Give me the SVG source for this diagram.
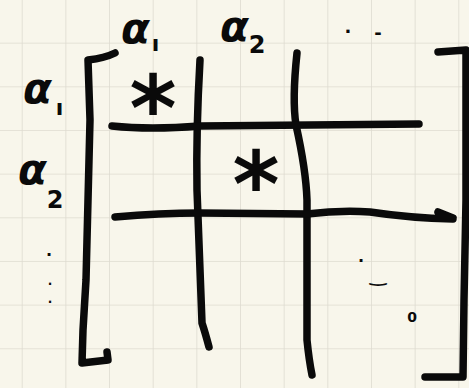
<svg xmlns="http://www.w3.org/2000/svg" width="469" height="388" viewBox="0 0 469 388">
<defs>
<pattern id="grid" x="21.7" y="-1" width="43.66" height="43.66" patternUnits="userSpaceOnUse">
<path d="M0,0 V43.66 M0,0 H43.66" fill="none" stroke="#dedbd0" stroke-width="1.6"/>
</pattern>
<style>
.ink{fill:none;stroke:#0a0a0a;stroke-width:7.5;stroke-linecap:round;stroke-linejoin:round}
.lbl{font-family:"DejaVu Sans",sans-serif;font-style:italic;font-weight:bold;fill:#0a0a0a}
.sub{font-family:"DejaVu Sans",sans-serif;font-weight:bold;fill:#0a0a0a}
.star{font-family:"DejaVu Sans",sans-serif;font-weight:bold;fill:#0a0a0a;text-anchor:middle}
.dot{font-family:"DejaVu Sans",sans-serif;font-weight:bold;fill:#0a0a0a;text-anchor:middle}
</style>
</defs>
<rect width="469" height="388" fill="#f8f6eb"/>
<rect width="469" height="388" fill="url(#grid)"/>

<g id="matrix">
<path class="ink" d="M115,53 Q105,58 88,60 L90,120 L88,200 L86,280 L83,330 L82,363 L108,360 L107,352"/>
<path class="ink" d="M438,52 L466,50 L466,200 L464,300 L463,377 L425,377"/>
<path class="ink" d="M200,60 Q196,130 197,190 L202,323 Q205,332 209,347"/>
<path class="ink" d="M297,53 Q292,100 296,125 Q306,170 307,200 L307,340 Q309,360 312,375"/>
<path class="ink" d="M112,126 Q150,130 200,126 L419,124"/>
<path class="ink" d="M115,217 Q160,213 200,213 L307,214 Q340,210 370,212 Q410,218 453,219 M438,212 L453,218"/>
</g>

<g id="col-labels">
<text class="lbl" x="121" y="43" font-size="42">α<tspan class="sub" font-size="22" font-style="normal" dx="2" dy="8">ı</tspan></text>
<text class="lbl" x="220" y="41" font-size="42">α<tspan class="sub" font-size="24" font-style="normal" dx="0" dy="12">2</tspan></text>
<text class="dot" x="348" y="38" font-size="18">·</text>
<text class="dot" x="378" y="39" font-size="18">‐</text>
</g>

<g id="row-labels">
<text class="lbl" x="23" y="103" font-size="42">α<tspan class="sub" font-size="22" font-style="normal" dx="4" dy="12">ı</tspan></text>
<text class="lbl" x="18" y="184" font-size="42">α<tspan class="sub" font-size="24" font-style="normal" dx="0" dy="24">2</tspan></text>
<text class="dot" x="49" y="260" font-size="16">·</text>
<text class="dot" x="50" y="288" font-size="12">·</text>
<text class="dot" x="50" y="306" font-size="12">·</text>
</g>

<g id="entries">
<text class="star" x="153" y="140" font-size="90">*</text>
<text class="star" x="256" y="216" font-size="90">*</text>
<text class="dot" x="361" y="266" font-size="16">·</text>
<text class="dot" x="378" y="282" font-size="20">‿</text>
<text class="dot" x="412" y="322" font-size="14">0</text>
</g>
</svg>
